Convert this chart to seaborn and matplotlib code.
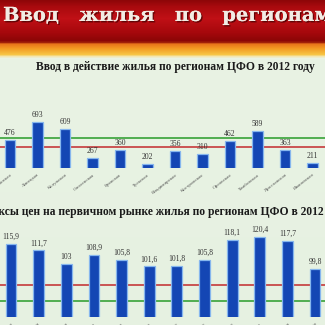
import numpy as np
import pandas as pd
import matplotlib
matplotlib.use("Agg")
import matplotlib.pyplot as plt
import matplotlib.patheffects as pe
import seaborn as sns

# ---------------- data ----------------
regions = ["Рязанская", "Липецкая", "Калужская", "Смоленская", "Брянская", "Тульская",
           "Владимирская", "Костромская", "Орловская", "Тамбовская", "Ярославская",
           "Ивановская", "г. Москва"]
housing_2012 = [476, 693, 609, 267, 360, 202, 356, 310, 462, 589, 363, 211, np.nan]
housing_ref_lines = [506, 394]          # green, red
price_index_2012 = [115.9, 111.7, 103, 108.9, 105.8, 101.6, 101.8, 105.8, 118.1,
                    120.4, 117.7, 99.8, 107.1]
price_ref_lines = [79.8, 89.7]          # green, red

banner_title = "Ввод   жилья   по   регионам"
top_title = "Ввод в действие жилья по регионам ЦФО в 2012 году"
bottom_title = "Индексы цен на первичном рынке жилья по регионам ЦФО в 2012 году"

# ---------------- styling ----------------
sns.set_style("white")
plt.rcParams["font.family"] = ["Liberation Serif", "DejaVu Serif"]

W = H = 325
fig = plt.figure(figsize=(3.25, 3.25), dpi=100)


def fx(px):
    return px / W


def fy(py):
    return 1 - py / H


def hex2rgb(h):
    h = h.lstrip("#")
    return [int(h[i:i + 2], 16) / 255 for i in (0, 2, 4)]


stops = [(0, "#8e0608"), (6, "#a80a0e"), (18, "#c01016"), (32, "#a6080c"),
         (40, "#8c0606"), (42, "#a02008"), (43.5, "#e8741a"), (48, "#f39a22"),
         (54, "#f7c444"), (56, "#f3e6b0"), (58, "#e9f3e4"), (325, "#e6f1e1")]
rows = np.arange(H)
pos = [s[0] for s in stops]
cols = np.array([hex2rgb(s[1]) for s in stops])
grad = np.stack([np.interp(rows, pos, cols[:, c]) for c in range(3)], axis=1)[:, None, :]
bg = fig.add_axes([0, 0, 1, 1], zorder=-10)
bg.imshow(grad, aspect="auto", extent=[0, 1, 0, 1])
bg.axis("off")

fig.text(fx(3), fy(16), banner_title, fontsize=14, weight="bold",
         family=["DejaVu Serif"], color="#f2ece4", ha="left", va="center",
         path_effects=[pe.withSimplePatchShadow(offset=(1, -1), shadow_rgbFace="#3a0000", alpha=0.7),
                       pe.Normal()])

bar_color = "#1446b4"
edge_color = "#86b6ee"


def make_axes(top_px, bot_px):
    ax = fig.add_axes([0, fy(bot_px), 1, (bot_px - top_px) / H])
    ax.set_facecolor("none")
    for s in ax.spines.values():
        s.set_visible(False)
    return ax


def draw(ax, values, lines, ylim, fmt):
    df = pd.DataFrame({"region": regions, "value": values})
    sns.barplot(data=df, x="region", y="value", order=regions, color=bar_color,
                width=0.39, edgecolor=edge_color, linewidth=0.9, saturation=1, ax=ax)
    for p in ax.patches:
        p.set_facecolor(bar_color)
    ax.axhline(lines[0], color="#45a845", lw=1.3, zorder=0.5)
    ax.axhline(lines[1], color="#c84848", lw=1.3, zorder=0.5)
    for i, v in enumerate(values):
        if np.isnan(v):
            continue
        ax.annotate(fmt(v), (i, v), xytext=(0, 2.2), textcoords="offset points",
                    ha="center", va="bottom", fontsize=5.5, color="#333333")
    ax.set_yticks([])
    ax.set_xlabel("")
    ax.set_ylabel("")
    ax.set_xticks(range(len(regions)))
    ax.set_xticklabels(regions, rotation=38, ha="right", va="top",
                       rotation_mode="anchor", fontsize=3.6, color="#555555")
    ax.tick_params(axis="x", length=1.5, color="#bbbbbb", pad=2)
    ax.set_ylim(*ylim)


ax1 = make_axes(75, 168)
draw(ax1, housing_2012, housing_ref_lines, (152.0, 1239.8), lambda v: f"{v:.0f}")

ax2 = make_axes(225, 317)
draw(ax2, price_index_2012, price_ref_lines, (69.67, 127.78),
     lambda v: (f"{v:.0f}" if float(v).is_integer() else f"{v:.1f}".replace(".", ",")))

fig.text(fx(175), fy(67), top_title, fontsize=8.3, weight="bold",
         color="#1a1a1a", ha="center", va="center")

t2 = fig.text(0, fy(212), bottom_title, fontsize=8.3, weight="bold",
              color="#1a1a1a", ha="left", va="center")
fig.canvas.draw()
r = fig.canvas.get_renderer()
tmp = fig.text(0, 0, "Индек", fontsize=8.3, weight="bold")
wpx = tmp.get_window_extent(r).width
tmp.remove()
t2.set_x((-wpx + 5) / W)

# x ranges are applied after the first draw so seaborn's categorical defaults don't override them
ax1.set_xlim(-10 / 27.5, 315 / 27.5)
ax2.set_xlim(-11 / 27.64, 314 / 27.64)

fig.savefig("out.png", dpi=100)
